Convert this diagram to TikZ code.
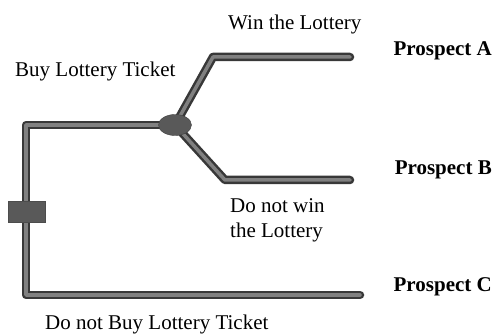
\documentclass[tikz,border=0pt]{standalone}
\usepackage{fontspec}
\setmainfont{Liberation Serif}
\usetikzlibrary{shapes.geometric}

\tikzset{
  tube/.style={draw=black!78, line width=2.5pt, double=black!50, double distance=3.5pt, line cap=round, line join=round},
  junction/.style={ellipse, fill=black!65, draw=black!75, inner sep=0pt, minimum width=33pt, minimum height=21pt},
  gatebox/.style={rectangle, fill=black!65, draw=black!70, inner sep=0pt, minimum width=37pt, minimum height=21pt},
  lbl/.style={font=\fontsize{21}{25}\selectfont, inner sep=0pt, anchor=base west, align=left},
  prospect/.style={font=\fontsize{21}{25}\selectfont\bfseries, inner sep=0pt, anchor=base east}
}

\begin{document}
\begin{tikzpicture}[x=1pt,y=-1pt]
\useasboundingbox (0,0) rectangle (495,336);
\coordinate (jc) at (175,125);
\coordinate (top) at (26,125);
\coordinate (bot) at (26,295);
\coordinate (cEnd) at (360,295);
\coordinate (kA) at (213,57);
\coordinate (aEnd) at (350,57);
\coordinate (kB) at (225,180);
\coordinate (bEnd) at (350,180);
\draw[tube] (jc) -- (top) -- (bot) -- (cEnd);
\draw[tube] (jc) -- (kA) -- (aEnd);
\draw[tube] (jc) -- (kB) -- (bEnd);
\node[junction] (jn) at (jc) {};
\node[gatebox] (gate) at (26.5,212) {};
\node[lbl] (win) at (228,30) {Win the Lottery};
\node[lbl] (buy) at (15,77) {Buy Lottery Ticket};
\node[lbl] (lose) at (230,238) {Do not win\\the Lottery};
\node[lbl] (nobuy) at (45,330) {Do not Buy Lottery Ticket};
\node[prospect] (pA) at (492,56) {Prospect A};
\node[prospect] (pB) at (492,175) {Prospect B};
\node[prospect] (pC) at (492,292) {Prospect C};
\end{tikzpicture}
\end{document}
